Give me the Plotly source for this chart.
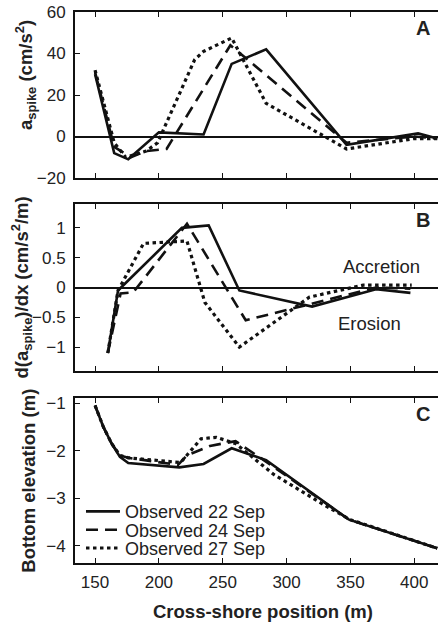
import plotly.graph_objects as go

# ---------------- data ----------------
series_names = ["Observed 22 Sep", "Observed 24 Sep", "Observed 27 Sep"]

# Panel A: a_spike (cm/s^2)
a22_x = [150, 165, 176, 200, 235, 257, 284, 347, 403, 418]
a22_y = [30, -8, -11, 2, 1, 35, 42, -4, 1.5, -1]
a24_x = [150, 165, 178, 190, 206, 250, 256, 347, 400, 418]
a24_y = [31, -5, -10, -7, -6, 38, 44, -3, 0, -1]
a27_x = [150, 165, 174, 190, 199, 228, 235, 257, 284, 347, 400, 418]
a27_y = [32, -3, -10, -7, -3, 37, 41, 47.5, 16, -6, -1, -1]

# Panel B: d(a_spike)/dx (cm/s^2/m)
b22_x = [160, 168, 218, 239, 263, 320, 370, 397]
b22_y = [-1.1, -0.05, 1.0, 1.04, -0.05, -0.32, -0.03, -0.09]
b24_x = [160, 170, 180, 222, 268, 370, 397]
b24_y = [-1.1, -0.1, -0.08, 1.07, -0.55, 0.0, -0.02]
b27_x = [160, 168, 188, 222, 236, 263, 318, 360, 398]
b27_y = [-1.1, -0.05, 0.74, 0.78, -0.25, -1.0, -0.16, 0.04, 0.04]

# Panel C: bottom elevation (m)
c22_x = [150, 156.5, 163, 169.5, 176, 216, 235, 257, 284, 349, 418]
c22_y = [-1.05, -1.5, -1.85, -2.13, -2.26, -2.35, -2.28, -1.95, -2.2, -3.45, -4.05]
c24_x = [150, 156.5, 163, 169.5, 176, 215, 222, 240, 260, 285, 349, 418]
c24_y = [-1.05, -1.5, -1.85, -2.1, -2.15, -2.3, -2.1, -1.9, -1.8, -2.25, -3.45, -4.05]
c27_x = [150, 156.5, 163, 169.5, 176, 217, 233, 245, 260, 290, 330, 350, 418]
c27_y = [-1.05, -1.5, -1.85, -2.1, -2.15, -2.25, -1.75, -1.72, -1.85, -2.5, -3.15, -3.45, -4.05]

x_ticks = [150, 200, 250, 300, 350, 400]
a_ticks = [-20, 0, 20, 40, 60]
b_ticks = [-1, -0.5, 0, 0.5, 1]
c_ticks = [-4, -3, -2, -1]

# ---------------- styles ----------------
INK = "#111111"
TXT = "#222222"
FONT = "Liberation Sans, Arial, sans-serif"
styles = [
    dict(color=INK, width=2.6, dash="solid"),
    dict(color=INK, width=2.6, dash="12px,7px"),
    dict(color=INK, width=3.2, dash="3.5px,3.5px"),
]
legend_ids = ["legend", "legend2", "legend3"]

fig = go.Figure()

panels = [
    ("x", "y", [(a22_x, a22_y), (a24_x, a24_y), (a27_x, a27_y)], False),
    ("x2", "y2", [(b22_x, b22_y), (b24_x, b24_y), (b27_x, b27_y)], False),
    ("x3", "y3", [(c22_x, c22_y), (c24_x, c24_y), (c27_x, c27_y)], True),
]
for xa, ya, data, show in panels:
    for i, (xs, ys) in enumerate(data):
        fig.add_trace(go.Scatter(
            x=xs, y=ys, mode="lines", xaxis=xa, yaxis=ya,
            name=series_names[i], legendgroup=series_names[i],
            legend=legend_ids[i],
            showlegend=show, line=styles[i], hoverinfo="skip",
        ))

xrange = [134.3, 418.6]
a_range = [-20, 60]
b_range = [-1.4, 1.4]
c_range = [-4.36, -0.9]
a_dom = [0.6987, 1.0]
b_dom = [0.3485, 0.6515]
c_dom = [0.0, 0.2989]

def xaxis(anchor, labels):
    return dict(
        range=xrange, anchor=anchor, tickvals=x_ticks,
        showticklabels=labels, ticks="inside", ticklen=5, tickwidth=1,
        tickcolor=INK, showline=True, linewidth=2, linecolor=INK,
        mirror="ticks", showgrid=False, zeroline=False,
        tickfont=dict(size=17, color=TXT, family=FONT),
        ticklabelstandoff=3,
    )

def yaxis(anchor, dom, rng, tv, zero):
    return dict(
        domain=dom, range=rng, anchor=anchor, tickvals=tv,
        ticks="inside", ticklen=5, tickwidth=1, tickcolor=INK,
        showline=True, linewidth=2, linecolor=INK, mirror=False,
        showgrid=False, zeroline=zero, zerolinecolor=INK, zerolinewidth=1.6,
        tickfont=dict(size=17, color=TXT, family=FONT),
        ticklabelstandoff=4,
    )

def right_axis(over, anchor, rng, tv):
    return dict(
        overlaying=over, anchor=anchor, side="right", range=rng, tickvals=tv,
        ticks="inside", ticklen=5, tickwidth=1, tickcolor=INK,
        showticklabels=False, showline=False, showgrid=False, zeroline=False,
    )

def legend_row(ypos):
    return dict(
        x=0.0165, y=ypos, xanchor="left", yanchor="middle",
        bgcolor="rgba(0,0,0,0)", borderwidth=0, itemwidth=34,
        font=dict(size=18, color=TXT, family=FONT),
    )

fig.update_layout(
    width=438, height=623,
    margin=dict(l=75, r=0, t=12, b=60),
    paper_bgcolor="white", plot_bgcolor="white",
    font=dict(family=FONT, color=TXT, size=18),
    xaxis=xaxis("y", False),
    xaxis2=xaxis("y2", False),
    xaxis3=xaxis("y3", True),
    yaxis=yaxis("x", a_dom, a_range, a_ticks, True),
    yaxis2=yaxis("x2", b_dom, b_range, b_ticks, True),
    yaxis3=yaxis("x3", c_dom, c_range, c_ticks, False),
    yaxis4=right_axis("y", "x", a_range, a_ticks),
    yaxis5=right_axis("y2", "x2", b_range, b_ticks),
    yaxis6=right_axis("y3", "x3", c_range, c_ticks),
    showlegend=True,
    legend=legend_row(0.0931),
    legend2=legend_row(0.0599),
    legend3=legend_row(0.0267),
)

ann = []
# panel letters
for yref, letter in [("y domain", "A"), ("y2 domain", "B"), ("y3 domain", "C")]:
    ann.append(dict(text=f"<b>{letter}</b>", xref="paper", yref=yref,
                    x=1, y=1, xanchor="center", yanchor="middle",
                    xshift=-15, yshift=-16, showarrow=False,
                    font=dict(size=20, color=TXT, family=FONT)))
# accretion / erosion
ann.append(dict(text="Accretion", xref="x2", yref="y2", x=374, y=0.35,
                showarrow=False, font=dict(size=18.5, color=TXT, family=FONT)))
ann.append(dict(text="Erosion", xref="x2", yref="y2", x=365, y=-0.6,
                showarrow=False, font=dict(size=18.5, color=TXT, family=FONT)))
# y-axis titles
ytitles = [
    ("y domain", 0.62, -50, "<b>a<sub>spike</sub> (cm/s<sup>2</sup>)</b>"),
    ("y2 domain", 0.5, -53, "<b>d(a<sub>spike</sub>)/dx (cm/s<sup>2</sup>/m)</b>"),
    ("y3 domain", 0.5, -46, "<b>Bottom elevation (m)</b>"),
]
for yref, yy, xs, t in ytitles:
    ann.append(dict(text=t, xref="paper", yref=yref, x=0, y=yy,
                    xanchor="center", yanchor="middle", xshift=xs,
                    textangle=-90, showarrow=False,
                    font=dict(size=18.5, color=TXT, family=FONT)))
# x-axis title
ann.append(dict(text="<b>Cross-shore position (m)</b>", xref="paper", yref="paper",
                x=0.5, y=0, xanchor="center", yanchor="middle",
                xshift=6, yshift=-48, showarrow=False,
                font=dict(size=18.5, color=TXT, family=FONT)))
fig.update_layout(annotations=ann)

fig.write_html(
    "out.html",
    config={"displayModeBar": False},
    post_script="document.body.style.margin='0px';document.body.style.overflow='hidden';",
)
